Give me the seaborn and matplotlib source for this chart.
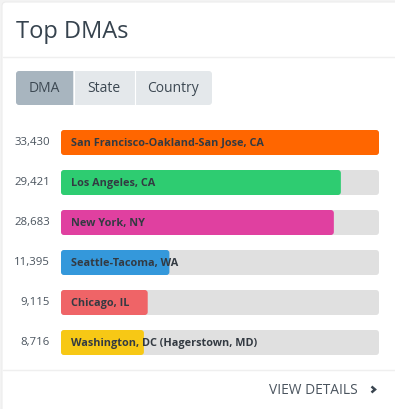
import matplotlib
matplotlib.use("Agg")
import matplotlib.pyplot as plt
import seaborn as sns
import pandas as pd
from matplotlib.patches import FancyBboxPatch, Rectangle
from matplotlib.lines import Line2D

# ---- data ----
dmas = ["San Francisco-Oakland-San Jose, CA", "Los Angeles, CA", "New York, NY",
        "Seattle-Tacoma, WA", "Chicago, IL", "Washington, DC (Hagerstown, MD)"]
counts = [33430, 29421, 28683, 11395, 9115, 8716]
count_labels = ["33,430", "29,421", "28,683", "11,395", "9,115", "8,716"]
colors = ["#ff6600", "#2ecc71", "#e040a0", "#3498db", "#ef6467", "#f7c815"]
tabs = ["DMA", "State", "Country"]
title = "Top DMAs"
footer = "VIEW DETAILS"

sns.set_theme(style="white")
plt.rcParams["font.family"] = ["Open Sans", "DejaVu Sans"]

W, H = 395, 410
fig = plt.figure(figsize=(W / 100, H / 100), dpi=100)
fig.patch.set_facecolor("#f3f3f3")

def fx(x):
    return x / W

def fy(y):
    return 1 - y / H

# card background
card = FancyBboxPatch((fx(2), fy(H + 10)), fx(W + 10), (H + 10 - 3) / H,
                      boxstyle="round,pad=0,rounding_size=0.01",
                      transform=fig.transFigure, facecolor="white",
                      edgecolor="#ececec", linewidth=0.8, zorder=-5)
fig.patches.append(card)

# title
fig.text(fx(16), fy(31.5), title, fontsize=17, color="#36434e",
         ha="left", va="center")
# dividers
fig.add_artist(Line2D([fx(3), 1], [fy(57.5), fy(57.5)], color="#efefef", lw=1, zorder=-4))
fig.add_artist(Line2D([fx(3), 1], [fy(370.5), fy(370.5)], color="#efefef", lw=1, zorder=-4))

# tab buttons
def fbox(x0, y0, x1, y1, color, rounded=True, z=1):
    if rounded:
        p = FancyBboxPatch((fx(x0), fy(y1)), fx(x1 - x0), (y1 - y0) / H,
                           boxstyle="round,pad=0,rounding_size=0.008",
                           transform=fig.transFigure, facecolor=color,
                           edgecolor="none", zorder=z, mutation_aspect=W / H)
    else:
        p = Rectangle((fx(x0), fy(y1)), fx(x1 - x0), (y1 - y0) / H,
                      transform=fig.transFigure, facecolor=color,
                      edgecolor="none", zorder=z)
    fig.patches.append(p)

fbox(16, 72, 212, 106, "#e4e8eb", True, 1)
fbox(16, 72, 73, 106, "#a8b5bf", True, 2)
fbox(62, 72, 73, 106, "#a8b5bf", False, 2)
fig.add_artist(Line2D([fx(73.5), fx(73.5)], [fy(72), fy(106)], color="white", lw=0.8, zorder=3))
fig.add_artist(Line2D([fx(134.5), fx(134.5)], [fy(72), fy(106)], color="white", lw=0.8, zorder=3))
tab_centers = [44.5, 104, 173.5]
for t, cx in zip(tabs, tab_centers):
    fig.text(fx(cx), fy(89), t, fontsize=10, color="#3c4852",
             ha="center", va="center", zorder=4)

# ---- bar chart ----
row_top, pitch = 123.5, 40
ax = fig.add_axes([fx(61), fy(row_top + 6 * pitch), fx(379 - 61), 6 * pitch / H])
ax.set_zorder(5)
ax.set_facecolor("none")
ax.patch.set_alpha(0)
df = pd.DataFrame({"dma": dmas, "count": counts, "track": [max(counts)] * len(dmas)})
maxv = max(counts)
bw = 25 / pitch
sns.barplot(data=df, y="dma", x="track", color="#e0e0e0",
            width=bw, ax=ax, orient="h", saturation=1)
sns.barplot(data=df, y="dma", x="count", hue="dma", palette=colors,
            width=bw, ax=ax, orient="h", saturation=1, legend=False)
ax.set_xlim(0, maxv)
ax.set_ylim(5.5, -0.5)

# round the bar corners
px_x = maxv / (379 - 61)
px_y = 1 / pitch
r = 3
new = []
for p in list(ax.patches):
    x0, y0 = p.get_x(), p.get_y()
    w, h = p.get_width(), p.get_height()
    fc = p.get_facecolor()
    p.remove()
    rp = FancyBboxPatch((x0, y0), w, h,
                        boxstyle=f"round,pad=0,rounding_size={r * px_x}",
                        mutation_aspect=px_y / px_x,
                        facecolor=fc, edgecolor="none")
    new.append(rp)
for rp in new:
    ax.add_patch(rp)

for i, (name, lab) in enumerate(zip(dmas, count_labels)):
    ax.text(10 * px_x, i, name, fontsize=7.85, fontweight="bold", color="#333a42",
            ha="left", va="center", zorder=10)
    fig.text(fx(50), fy(row_top + pitch * i + pitch / 2 - 0.5), lab, fontsize=8.2,
             color="#4a545e", ha="right", va="center")

ax.set_xlabel("")
ax.set_ylabel("")
ax.set_xticks([])
ax.set_yticks([])
sns.despine(ax=ax, left=True, bottom=True)

# footer
fig.text(fx(358), fy(390.5), footer, fontsize=9.9, color="#4a545e",
         ha="right", va="center")
fig.add_artist(Line2D([fx(371.5), fx(375), fx(371.5)], [fy(387.5), fy(390.5), fy(393.5)],
                      color="#3a4550", lw=1.8, solid_joinstyle="miter", solid_capstyle="butt"))

fig.savefig("out.png", dpi=100, facecolor=fig.get_facecolor())
